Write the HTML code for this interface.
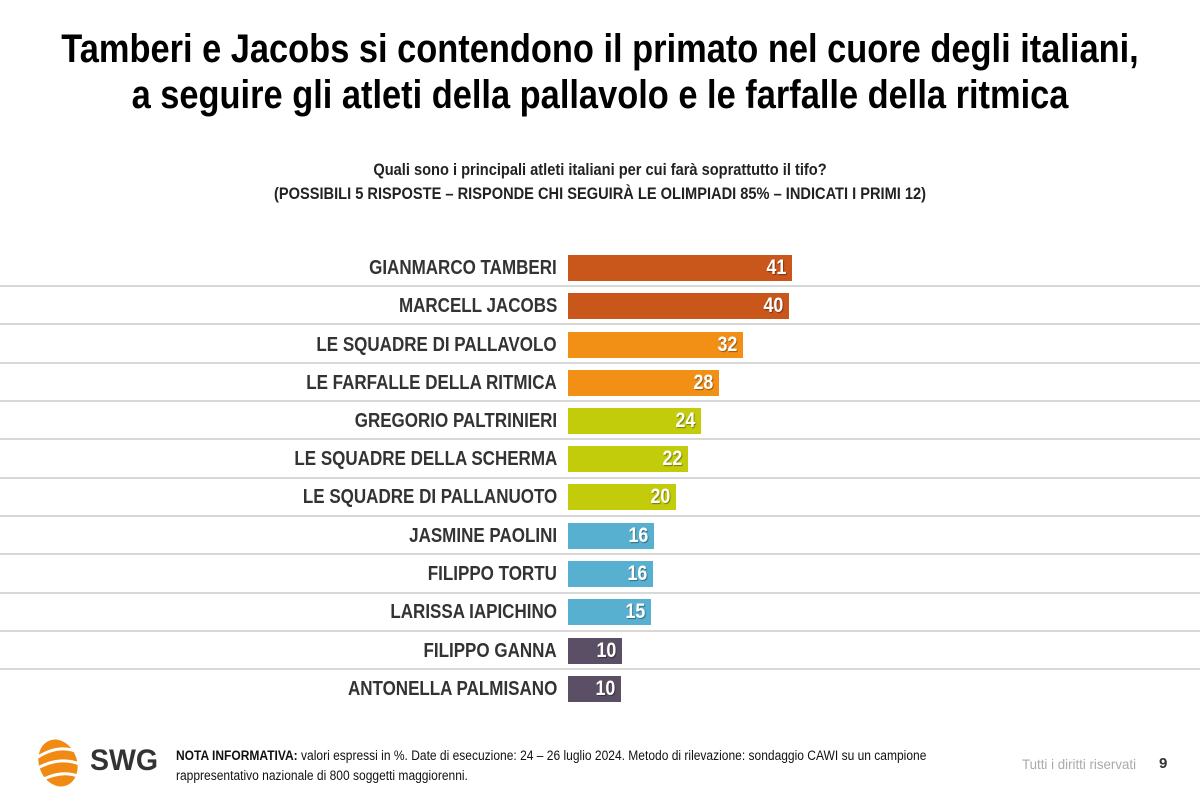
<!DOCTYPE html>
<html><head><meta charset="utf-8"><style>
body{margin:0;width:1200px;height:800px;background:#fff;position:relative;overflow:hidden;font-family:"Liberation Sans",sans-serif;color:#000}
.t{position:absolute;left:-200px;width:1600px;text-align:center;font-weight:bold;font-size:40px;line-height:46px;top:26px;white-space:nowrap;transform:scaleX(0.86);transform-origin:800px 0}
.s{position:absolute;left:0;width:1200px;text-align:center;font-weight:bold;font-size:17px;line-height:24px;top:158px;color:#222;white-space:nowrap;transform:scaleX(0.86);transform-origin:600px 0}
.row{position:absolute;left:0;width:1200px;height:38px}
.lab{position:absolute;right:643px;top:0;line-height:38px;font-size:20px;font-weight:bold;color:#333;white-space:nowrap;transform:scaleX(0.85);transform-origin:right center}
.bar{position:absolute;left:568px;top:6px;height:26px;color:#fff;font-weight:bold;font-size:21px;line-height:26px;text-align:right;box-sizing:border-box;padding-right:6px;text-shadow:1px 1px 1px rgba(0,0,0,.4)}
.bar span{display:inline-block;transform:scaleX(0.85);transform-origin:right center}
.ln{position:absolute;left:0;width:1200px;height:2px;background:#d8d8d8}
.f{position:absolute;left:176px;top:746px;font-size:13.5px;line-height:20px;color:#111;white-space:nowrap;transform:scaleX(0.89);transform-origin:0 0}
</style></head><body>
<div class="t">Tamberi e Jacobs si contendono il primato nel cuore degli italiani,<br>a seguire gli atleti della pallavolo e le farfalle della ritmica</div>
<div class="s">Quali sono i principali atleti italiani per cui farà soprattutto il tifo?<br>(POSSIBILI 5 RISPOSTE – RISPONDE CHI SEGUIRÀ LE OLIMPIADI 85% – INDICATI I PRIMI 12)</div>
<div class="row" style="top:249px"><div class="lab">GIANMARCO TAMBERI</div><div class="bar" style="width:224px;background:#c9561a"><span>41</span></div></div>
<div class="ln" style="top:285px"></div>
<div class="row" style="top:287px"><div class="lab">MARCELL JACOBS</div><div class="bar" style="width:221px;background:#c9561a"><span>40</span></div></div>
<div class="ln" style="top:323px"></div>
<div class="row" style="top:326px"><div class="lab">LE SQUADRE DI PALLAVOLO</div><div class="bar" style="width:175px;background:#f19015"><span>32</span></div></div>
<div class="ln" style="top:362px"></div>
<div class="row" style="top:364px"><div class="lab">LE FARFALLE DELLA RITMICA</div><div class="bar" style="width:151px;background:#f19015"><span>28</span></div></div>
<div class="ln" style="top:400px"></div>
<div class="row" style="top:402px"><div class="lab">GREGORIO PALTRINIERI</div><div class="bar" style="width:133px;background:#c3cc0a"><span>24</span></div></div>
<div class="ln" style="top:438px"></div>
<div class="row" style="top:440px"><div class="lab">LE SQUADRE DELLA SCHERMA</div><div class="bar" style="width:120px;background:#c3cc0a"><span>22</span></div></div>
<div class="ln" style="top:477px"></div>
<div class="row" style="top:478px"><div class="lab">LE SQUADRE DI PALLANUOTO</div><div class="bar" style="width:108px;background:#c3cc0a"><span>20</span></div></div>
<div class="ln" style="top:515px"></div>
<div class="row" style="top:517px"><div class="lab">JASMINE PAOLINI</div><div class="bar" style="width:86px;background:#57b0cf"><span>16</span></div></div>
<div class="ln" style="top:553px"></div>
<div class="row" style="top:555px"><div class="lab">FILIPPO TORTU</div><div class="bar" style="width:85px;background:#57b0cf"><span>16</span></div></div>
<div class="ln" style="top:592px"></div>
<div class="row" style="top:593px"><div class="lab">LARISSA IAPICHINO</div><div class="bar" style="width:83px;background:#57b0cf"><span>15</span></div></div>
<div class="ln" style="top:630px"></div>
<div class="row" style="top:632px"><div class="lab">FILIPPO GANNA</div><div class="bar" style="width:54px;background:#5b4f66"><span>10</span></div></div>
<div class="ln" style="top:668px"></div>
<div class="row" style="top:670px"><div class="lab">ANTONELLA PALMISANO</div><div class="bar" style="width:53px;background:#5b4f66"><span>10</span></div></div>
<svg style="position:absolute;left:30px;top:733px" width="60" height="60" viewBox="0 0 60 60">
<ellipse cx="28" cy="30" rx="19" ry="24" fill="#f08a12" transform="rotate(-20 28 30)"/>
<path d="M8 24 Q30 10 50 20" stroke="#fff" stroke-width="3" fill="none"/>
<path d="M6 36 Q30 22 52 32" stroke="#fff" stroke-width="3" fill="none"/>
<path d="M10 48 Q32 36 50 44" stroke="#fff" stroke-width="3" fill="none"/>
</svg>
<div style="position:absolute;left:90px;top:744px;font-weight:bold;font-size:30px;color:#333;transform:scaleX(0.95);transform-origin:0 0">SWG</div>
<div class="f"><b>NOTA INFORMATIVA:</b> valori espressi in %. Date di esecuzione: 24 – 26 luglio 2024. Metodo di rilevazione: sondaggio CAWI su un campione<br>rappresentativo nazionale di 800 soggetti maggiorenni.</div>
<div style="position:absolute;left:1022px;top:756px;font-size:14px;color:#aaa;white-space:nowrap;transform:scaleX(0.95);transform-origin:0 0">Tutti i diritti riservati</div>
<div style="position:absolute;left:1159px;top:755px;font-size:15px;font-weight:bold;color:#333">9</div>
</body></html>
